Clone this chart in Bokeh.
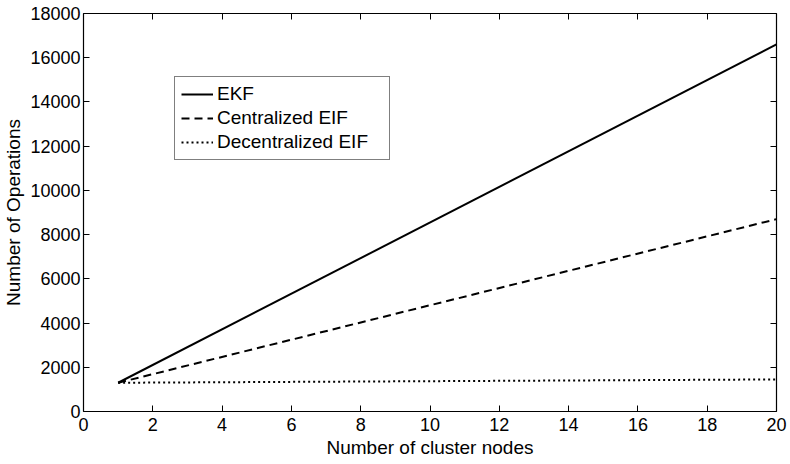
from bokeh.plotting import figure
from bokeh.models import LinearAxis, Range1d, FixedTicker, Legend, LegendItem
from bokeh.embed import file_html
from bokeh.resources import INLINE

nodes = [1, 20]
ekf = [1300, 16600]
central_eif = [1300, 8700]
decentral_eif = [1300, 1450]
x_ticks = list(range(0, 21, 2))
y_ticks = list(range(0, 18001, 2000))

FONT = "Liberation Sans"

p = figure(width=790, height=464, output_backend="svg", toolbar_location=None,
           x_range=Range1d(0, 20), y_range=Range1d(0, 18000),
           min_border_left=81, min_border_right=14, min_border_top=13, min_border_bottom=53)
p.xgrid.visible = False
p.ygrid.visible = False
p.outline_line_color = None
p.background_fill_color = "white"
p.border_fill_color = "white"

r1 = p.line(nodes, ekf, line_color="black", line_width=2)
r2 = p.line(nodes, central_eif, line_color="black", line_width=2, line_dash="8 5")
r3 = p.line(nodes, decentral_eif, line_color="black", line_width=2, line_dash="2 3")

def style(ax):
    ax.axis_line_color = "black"
    ax.axis_line_width = 1.2
    ax.major_tick_in = 6
    ax.major_tick_out = 0
    ax.minor_tick_line_color = None
    ax.major_tick_line_color = "black"
    ax.major_label_text_font = FONT
    ax.major_label_text_font_size = "18px"
    ax.major_label_text_color = "black"
    ax.axis_label_text_font = FONT
    ax.axis_label_text_font_size = "19px"
    ax.axis_label_text_font_style = "normal"
    ax.axis_label_text_color = "black"

p.xaxis.ticker = FixedTicker(ticks=x_ticks)
p.yaxis.ticker = FixedTicker(ticks=y_ticks)
p.xaxis.axis_label = "Number of cluster nodes"
p.yaxis.axis_label = "Number of Operations"
style(p.xaxis[0])
style(p.yaxis[0])
p.xaxis.axis_label_standoff = 3
p.yaxis.axis_label_standoff = 3
p.xaxis.major_label_standoff = 6
p.yaxis.major_label_standoff = 3

top = LinearAxis(ticker=FixedTicker(ticks=x_ticks),
                 major_label_overrides={t: "" for t in x_ticks})
right = LinearAxis(ticker=FixedTicker(ticks=y_ticks),
                   major_label_overrides={t: "" for t in y_ticks})
style(top)
style(right)
for ax in (top, right):
    ax.major_label_standoff = 0
p.add_layout(top, "above")
p.add_layout(right, "right")

legend = Legend(items=[
    LegendItem(label="EKF", renderers=[r1]),
    LegendItem(label="Centralized EIF", renderers=[r2]),
    LegendItem(label="Decentralized EIF", renderers=[r3]),
], location=(91, 251))
legend.border_line_color = "black"
legend.border_line_width = 1
legend.background_fill_alpha = 1
legend.label_text_font = FONT
legend.label_text_font_size = "19px"
legend.label_text_color = "black"
legend.glyph_width = 32
legend.glyph_height = 20
legend.label_height = 20
legend.label_width = 166
legend.label_standoff = 4
legend.spacing = 2
legend.padding = 6
legend.margin = 0
p.add_layout(legend, "center")

open("out.html", "w").write(file_html(p, INLINE))
